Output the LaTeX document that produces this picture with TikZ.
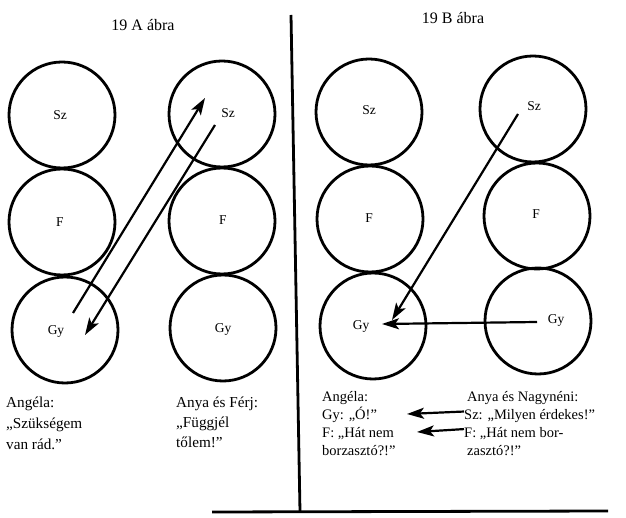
\documentclass[tikz,border=0pt]{standalone}
\usepackage{fontspec}
\setmainfont{Liberation Serif}
\usetikzlibrary{arrows.meta}
\begin{document}
\begin{tikzpicture}[x=1pt,y=-1pt,
  ring/.style={circle,draw,line width=2.8pt,minimum size=106pt,inner sep=0pt},
  lbl/.style={inner sep=0pt,font=\fontsize{13.5}{15}\selectfont},
  ttl/.style={inner sep=0pt,font=\fontsize{16}{18}\selectfont},
  txa/.style={anchor=base west,inner sep=0pt,font=\fontsize{15.2}{18}\selectfont},
  txb/.style={anchor=base west,inner sep=0pt,font=\fontsize{14.5}{17}\selectfont},
  arr/.style={line width=2.2pt,-{Stealth[length=17pt,width=11pt,inset=4pt]}},
  rule/.style={line width=2.8pt},
]
\useasboundingbox (0,0) rectangle (626,518);
% titles
\node[ttl] (tA) at (143,25) {19 A ábra};
\node[ttl] (tB) at (453,18) {19 B ábra};
% panel A circles
\node[ring] (aSz) at (62,115) {};
\node[ring] (aF)  at (62,222) {};
\node[ring] (aGy) at (65,330) {};
\node[ring] (bSz) at (222,114) {};
\node[ring] (bF)  at (222,221) {};
\node[ring] (bGy) at (223,328) {};
% panel B circles
\node[ring] (cSz) at (369,112) {};
\node[ring] (cF)  at (370,219) {};
\node[ring] (cGy) at (373,326) {};
\node[ring] (dSz) at (533,109) {};
\node[ring] (dF)  at (537,216) {};
\node[ring] (dGy) at (538,321) {};
% circle labels
\node[lbl] (laSz) at (60,115) {Sz};
\node[lbl] (laF)  at (60,222) {F};
\node[lbl] (laGy) at (56,331) {Gy};
\node[lbl] (lbSz) at (228,113) {Sz};
\node[lbl] (lbF)  at (223,220) {F};
\node[lbl] (lbGy) at (223,329) {Gy};
\node[lbl] (lcSz) at (369,110) {Sz};
\node[lbl] (lcF)  at (369,218) {F};
\node[lbl] (lcGy) at (361,326) {Gy};
\node[lbl] (ldSz) at (534,106) {Sz};
\node[lbl] (ldF)  at (536,214) {F};
\node[lbl] (ldGy) at (556,320) {Gy};
% arrow end points
\coordinate (p1s) at (73,313);
\coordinate (p1e) at (205,98);
\coordinate (p2s) at (215,125);
\coordinate (p2e) at (85,335);
\coordinate (p3s) at (518,114);
\coordinate (p3e) at (392,320);
\coordinate (p4s) at (537,322);
\coordinate (p4e) at (382,324);
% panel A arrows
\draw[arr] (p1s) -- (p1e);
\draw[arr] (p2s) -- (p2e);
% panel B arrows
\draw[arr] (p3s) -- (p3e);
\draw[arr] (p4s) -- (p4e);
% divider
\coordinate (vt) at (291,15);
\coordinate (vb) at (300,512);
\coordinate (hl) at (212,512);
\coordinate (hr) at (608,511);
\draw[rule] (vt) -- (vb);
\draw[rule] (hl) -- (hr);
% panel A texts
\node[txa] (a1) at (6,407) {Angéla:};
\node[txa] (a2) at (6,428) {„Szükségem};
\node[txa] (a3) at (6,449) {van rád.”};
\node[txa] (b1) at (176,407) {Anya és Férj:};
\node[txa] (b2) at (176,427) {„Függjél};
\node[txa] (b3) at (176,447) {tőlem!”};
% panel B texts
\node[txb] (c1) at (322,401) {Angéla:};
\node[txb] (c2) at (322,419) {Gy: „Ó!”};
\node[txb] (c3) at (322,437) {F: „Hát nem};
\node[txb] (c4) at (322,455) {borzasztó?!”};
\node[txb] (d1) at (467,401) {Anya és Nagynéni:};
\node[txb] (d2) at (464,419) {Sz: „Milyen érdekes!”};
\node[txb] (d3) at (464,437) {F: „Hát nem bor-};
\node[txb] (d4) at (467,455) {zasztó?!”};
% text arrows
\coordinate (q1e) at (407,414);
\coordinate (q2e) at (417,432);
\draw[arr] (d2.west) ++(0,-4) coordinate (q1s) -- (q1e);
\draw[arr] (d3.west) ++(0,-4) coordinate (q2s) -- (q2e);
\end{tikzpicture}
\end{document}
